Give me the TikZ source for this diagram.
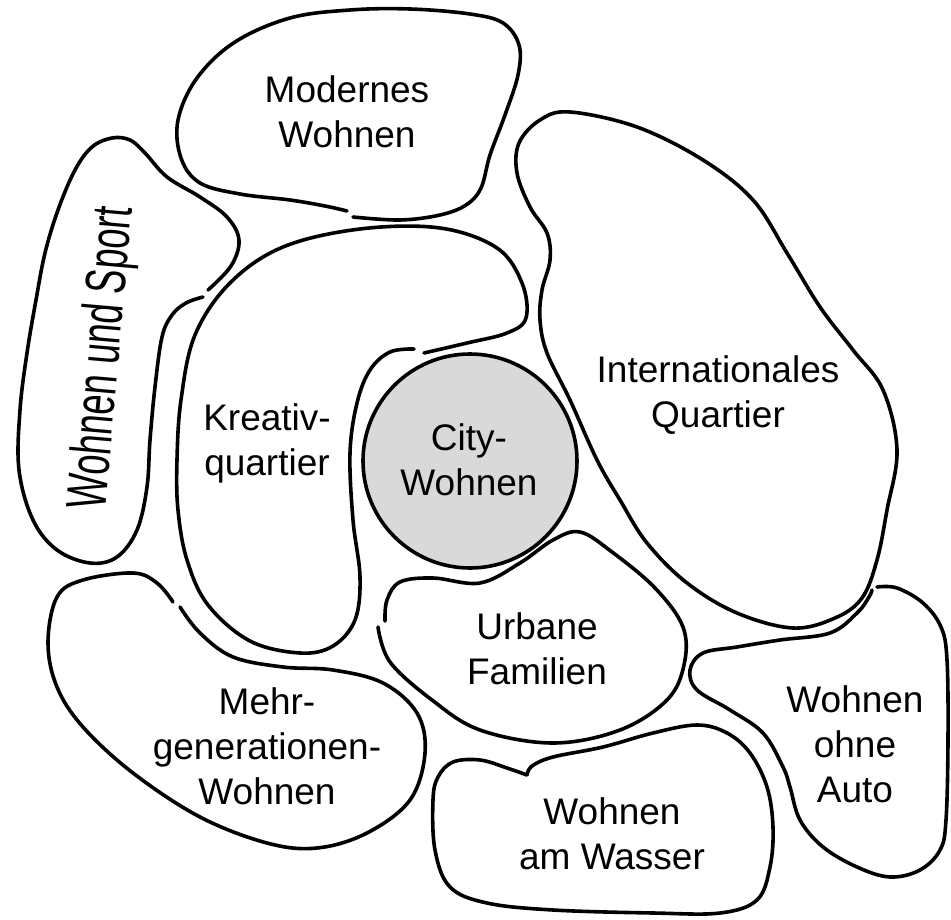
\documentclass[tikz,border=0pt]{standalone}
\usepackage{fontspec}
\setmainfont{Liberation Sans}
\newfontfamily\tallfont[FakeStretch=0.64]{Liberation Sans}
\usepackage{tikz}

\begin{document}
\begin{tikzpicture}[x=1pt,y=-1pt]
    \tikzset{zone/.style = {draw,line width=3.6pt,line join=round,line cap=round}}
    \tikzset{zonetext/.style = {align=center,inner sep=0pt,anchor=north,font=\fontsize{37}{45}\selectfont}}
    \tikzset{sidetext/.style = {inner sep=0pt,anchor=center,rotate=85,font=\tallfont\fontsize{57}{60}\selectfont}}
    \definecolor{cityfill}{RGB}{217,217,217}

    \useasboundingbox (0,0) rectangle (951,920);

    % Modernes Wohnen
    \draw[zone] plot[smooth,tension=0.6] coordinates {(353,217) (400,220) (440,215) (466,205) (481,188) (490,155) (505,115) (518,75) (519,45) (503,23) (470,14) (410,9) (350,10) (290,18) (235,42) (197,78) (178,120) (181,158) (200,183) (240,194) (290,200) (325,206) (347,211)};
    % Wohnen und Sport
    \draw[zone] plot[smooth,tension=0.6] coordinates {(203,297) (186,303) (172,315) (162,337) (155,387) (150,440) (147,487) (137,530) (117,557) (90,563) (57,550) (33,520) (19,470) (20,410) (27,353) (36,300) (45,253) (58,210) (75,170) (92,147) (112,138) (130,140) (145,153) (167,177) (200,197) (227,217) (239,240) (231,266) (208,290)};
    % Kreativquartier
    \draw[zone] plot[smooth,tension=0.6] coordinates {(414,349) (390,352) (370,370) (357,403) (350,453) (353,520) (360,577) (355,620) (333,646) (300,653) (250,641) (208,605) (187,560) (178,510) (177,460) (181,400) (195,335) (230,283) (283,247) (360,229) (440,228) (497,248) (522,283) (526,318) (507,333) (467,343) (424,353)};
    % Internationales Quartier
    \draw[zone] plot[smooth cycle,tension=0.6] coordinates {(570,112) (637,127) (703,160) (753,200) (787,253) (820,307) (853,350) (883,390) (897,450) (887,510) (877,560) (862,598) (835,618) (793,628) (737,613) (687,583) (647,543) (620,500) (597,460) (570,400) (547,353) (540,320) (542,290) (550,260) (547,233) (530,207) (517,173) (519,143) (540,120)};
    % Urbane Familien
    \draw[zone] plot[smooth,tension=0.6] coordinates {(378,627) (390,662) (432,700) (480,730) (553,743) (620,730) (667,700) (684,665) (683,627) (655,588) (612,552) (580,532) (553,540) (520,563) (480,583) (433,578) (400,582) (387,600) (385,621)};
    % Mehrgenerationen-Wohnen
    \draw[zone] plot[smooth,tension=0.6] coordinates {(180,607) (200,633) (233,657) (283,667) (333,670) (383,683) (417,713) (425,753) (410,800) (367,833) (317,848) (267,843) (200,817) (133,773) (83,727) (57,687) (48,643) (57,597) (83,580) (133,573) (157,583) (173,602)};
    % Wohnen am Wasser
    \draw[zone] plot[smooth,tension=0.6] coordinates {(527,775) (532,766) (553,757) (603,747) (653,733) (697,725) (727,733) (750,753) (767,787) (773,827) (770,867) (757,900) (720,913) (653,913) (553,910) (487,903) (450,887) (435,850) (433,800) (438,777) (453,762) (480,760) (507,768) (527,775)};
    % Wohnen ohne Auto
    \draw[zone] plot[smooth,tension=0.6] coordinates {(877,587) (897,588) (923,603) (941,627) (947,660) (948,740) (946,820) (940,850) (920,870) (890,877) (857,867) (823,847) (800,820) (790,787) (783,767) (763,733) (730,710) (697,690) (690,670) (703,653) (737,647) (780,640) (830,633) (857,613) (869,597) (872,590)};

    % City-Wohnen
    \node[circle,draw,line width=3.6pt,fill=cityfill,minimum size=214pt] (city) at (470,461) {};

    \node[zonetext] (modern) at (347,75) {Modernes\\Wohnen};
    \node[sidetext] (sport) at (104,358) {Wohnen und Sport};
    \node[zonetext] (kreativ) at (267,403) {Kreativ-\\quartier};
    \node[zonetext] (citytext) at (469,423) {City-\\Wohnen};
    \node[zonetext] (intl) at (718,355) {Internationales\\Quartier};
    \node[zonetext] (urban) at (537,612) {Urbane\\Familien};
    \node[zonetext] (mehr) at (267,687) {Mehr-\\generationen-\\Wohnen};
    \node[zonetext] (wasser) at (612,797) {Wohnen\\am Wasser};
    \node[zonetext] (auto) at (855,685) {Wohnen\\ohne\\Auto};
\end{tikzpicture}
\end{document}
